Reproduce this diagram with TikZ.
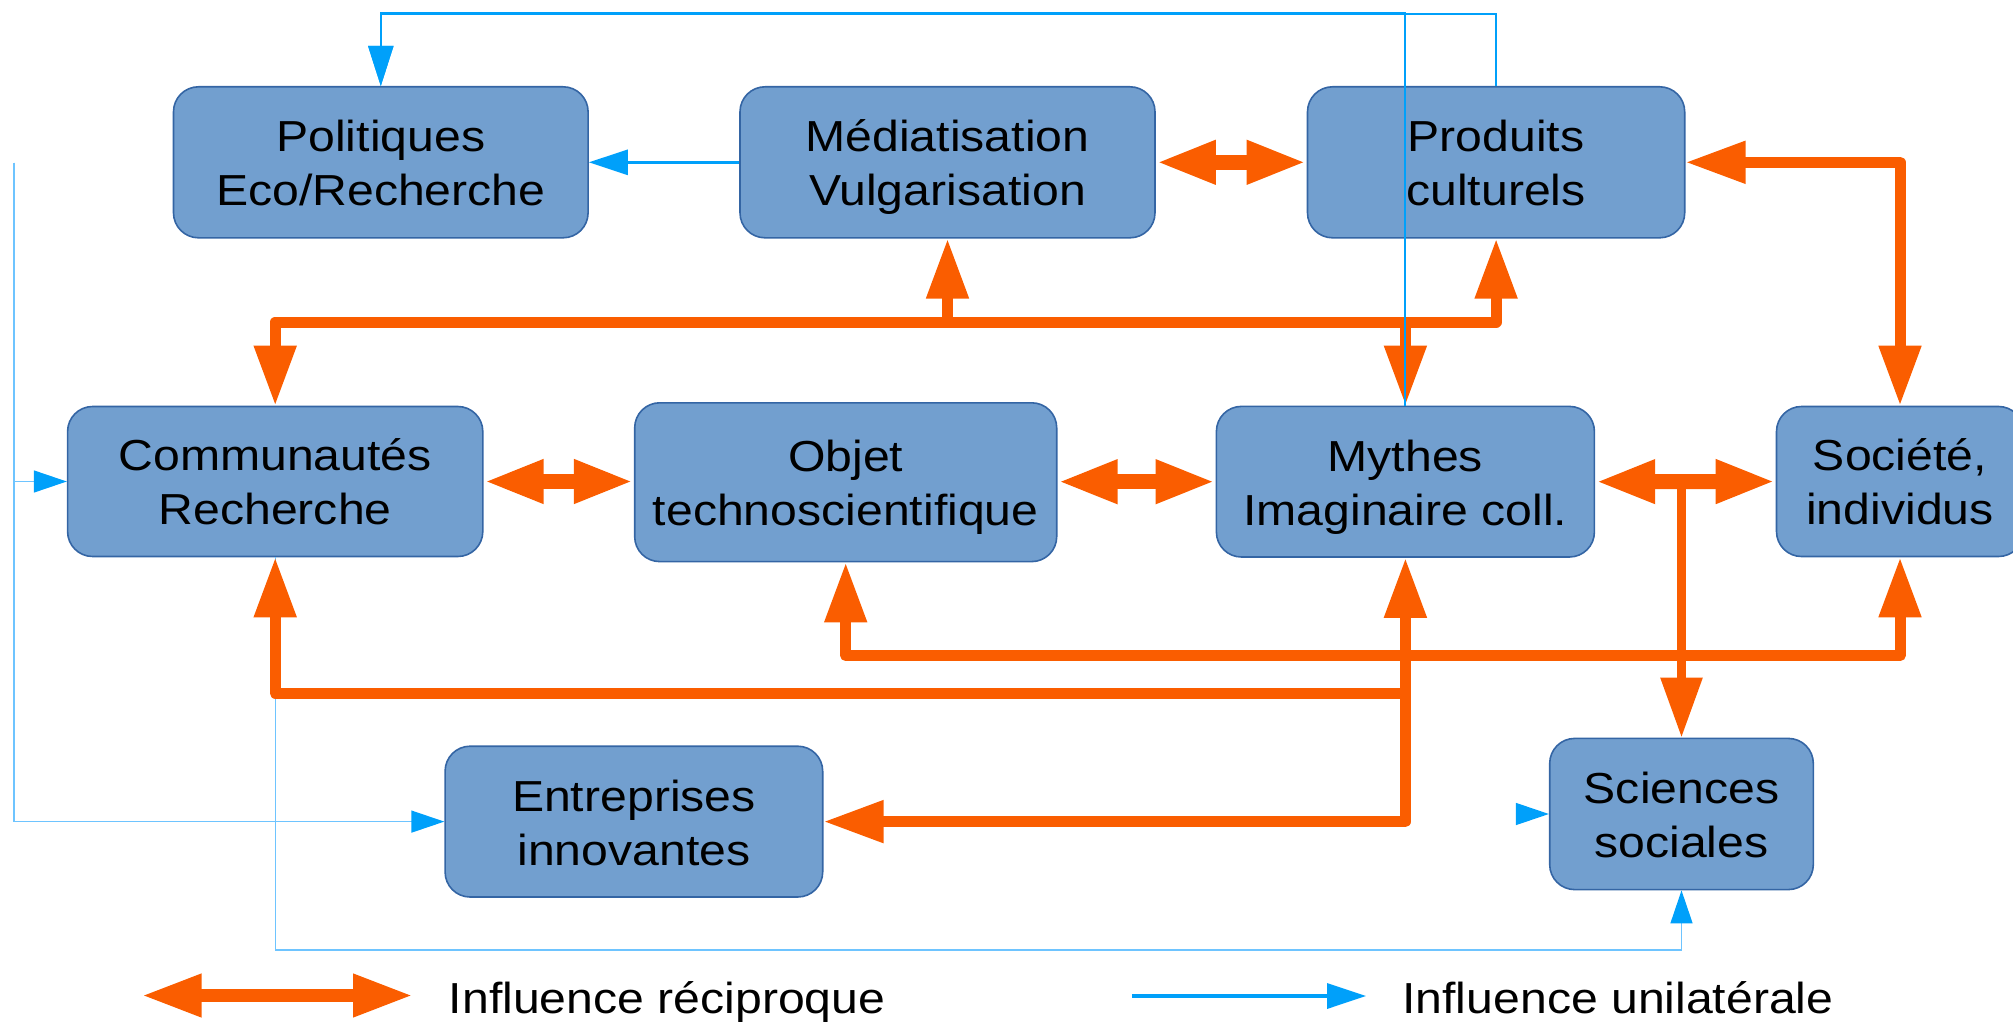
\documentclass[tikz,border=0pt]{standalone}
\usepackage{fontspec}
\setmainfont{Liberation Sans}[FakeStretch=1.11]
\usetikzlibrary{arrows.meta,calc}
\definecolor{boxfill}{RGB}{114,159,207}
\definecolor{boxline}{RGB}{52,101,164}
\definecolor{orng}{RGB}{250,93,0}
\definecolor{blu}{RGB}{0,160,250}
\definecolor{lblu}{RGB}{110,196,255}
\newcommand\ls{\rule[-0.22em]{0pt}{1.196em}}
\begin{document}
\begin{tikzpicture}[x=0.5pt,y=-0.5pt,
  box/.style={draw=boxline, fill=boxfill, line width=0.8pt, rounded corners=12.5pt,
    align=center, inner sep=0pt, font=\fontsize{21.7}{27}\selectfont},
  lab/.style={anchor=base west, inner sep=0pt, font=\fontsize{21.7}{27}\selectfont},
  rec/.style={draw=orng, line width=5.5pt, line join=round, >={Triangle[length=30pt,width=20pt]}},
  recs/.style={rec, line width=7.5pt},
  recl/.style={rec, line width=6.5pt},
  stem/.style={rec, line width=4.5pt},
  uni/.style={draw=blu, line width=1.5pt, >={Triangle[length=19.5pt,width=12.5pt]}},
  unit/.style={draw=blu, line width=1pt, >={Triangle[length=20pt,width=12.5pt]}},
  unil/.style={draw=lblu, line width=0.7pt, >={Triangle[length=16.5pt,width=11pt,color=blu]}}
]
\useasboundingbox (0,0) rectangle (2013,1022);
\clip (0,0) rectangle (2013,1022);

% boxes
\node[box, minimum width=207.3pt, minimum height=75.5pt] (pol) at (380.8,162.3) {\ls Politiques\\\ls Eco/Recherche};
\node[box, minimum width=207.5pt, minimum height=75.5pt] (med) at (947.5,162.3) {\ls Médiatisation\\\ls Vulgarisation};
\node[box, minimum width=188.6pt, minimum height=75.5pt] (prod) at (1496.1,162.3) {\ls Produits\\\ls culturels};
\node[box, minimum width=207.6pt, minimum height=75pt] (com) at (275.2,481.5) {\ls Communautés\\\ls Recherche};
\node[box, minimum width=211pt, minimum height=79.4pt] (obj) at (845.7,482.2) {\ls Objet\\\ls technoscientifique};
\node[box, minimum width=189pt, minimum height=75.3pt] (myth) at (1405.4,481.7) {\ls Mythes\\\ls Imaginaire coll.};
\node[box, minimum width=123.5pt, minimum height=75pt] (soc) at (1900,481.5) {\ls Société,\\\ls individus};
\node[box, minimum width=188.8pt, minimum height=75.4pt] (ent) at (633.9,821.6) {\ls Entreprises\\\ls innovantes};
\node[box, minimum width=131.8pt, minimum height=75.6pt] (ss) at (1681.5,814) {\ls Sciences\\\ls sociales};

% helper coordinates
\coordinate (jt) at (947.5,322);
\coordinate (jb) at (1405.4,693);
\coordinate (jo) at (845.7,655.6);
\coordinate (tA) at (380.8,12.8);
\coordinate (tB) at (380.8,14.5);
\coordinate (L0) at (13.8,162.5);
\coordinate (bl) at (0,950);

% thin one-way links (under the orange ones)
\draw[unil,->] (L0) |- (com.west);
\draw[unil,->] (L0) |- (ent.west);
\draw[unil,->] (com.south) |- (ss.south |- bl) -- (ss.south);

% reciprocal influences
\draw[recs,<->] (med) -- (prod);
\draw[recs,<->] (com.east) -- (com.east -| obj.west);
\draw[recs,<->] (myth.west -| obj.east) -- (myth.west);
\draw[recs,<->] (myth.east) -- (soc.west);
\draw[rec,<->] (prod.east) -| (soc.north);
\draw[rec,<->] (com.north) |- (jt) -| (prod.south);
\draw[rec,->] (jt) -- (med.south);
\draw[rec,->] (jt -| myth.north) -- (myth.north);
\draw[rec,<-] (com.south) |- (jb);
\draw[rec,<->] (myth.south) |- (ent.east);
\draw[rec,<->] (obj.south) |- (jo) -| (soc.south);
\draw[stem,->] (ss.north |- myth.east) -- (ss.north);

% one-way influences
\draw[uni,->] (med.west) -- (pol.east);
\draw[unit,->] (prod.north) |- (tB) -- (pol.north);
\draw[unit,->] (myth.north) |- (tA) -- (pol.north);
\draw[unil,->] ($(ss.west)+(-33,0)$) -- (ss.west);

% legend
\coordinate (lo1) at (141.6,995.5);
\coordinate (lo2) at (413,995.5);
\draw[recl,<->] (lo1) -- (lo2);
\node[lab] (t1) at (448.5,1013.3) {Influence réciproque};
\coordinate (lb1) at (1131.8,996);
\coordinate (lb2) at (1366,996);
\draw[uni,->,line width=1.75pt] (lb1) -- (lb2);
\node[lab] (t2) at (1402,1013.3) {Influence unilatérale};
\end{tikzpicture}
\end{document}
